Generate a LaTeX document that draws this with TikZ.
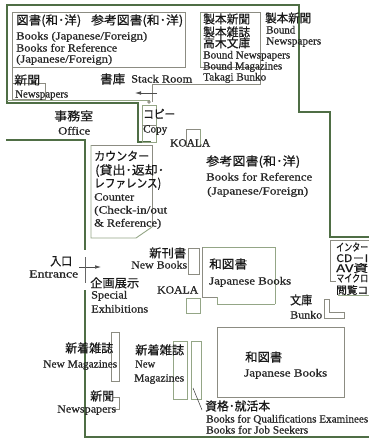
\documentclass[tikz,border=0pt]{standalone}
\usepackage{graphicx}
\usepackage{fontspec}
\setmainfont{Liberation Serif}
\newfontfamily\latf[FakeBold=0.6]{Liberation Serif}
\newfontfamily\cjkf[FakeBold=0.5]{Noto Sans CJK JP}
\newcommand{\nw}[2]{\resizebox{#1pt}{\height}{#2}}
\definecolor{wall}{HTML}{4F6E45}
\definecolor{boxg}{HTML}{8C8C82}
\definecolor{boxv}{HTML}{94A686}
\usetikzlibrary{arrows.meta}
\tikzset{
  lat/.style={anchor=base west,inner sep=0pt,yshift=-3.5pt,font=\latf\fontsize{11}{13}\selectfont,text=black!85},
  jp/.style={anchor=base west,inner sep=0pt,yshift=-4.5pt,font=\cjkf\fontsize{12}{14}\selectfont,text=black!90},
  jps/.style={anchor=base west,inner sep=0pt,yshift=-4pt,font=\cjkf\fontsize{10.5}{12}\selectfont,text=black!90},
  wallline/.style={draw=wall,line width=1.5pt,line join=miter},
  wallthick/.style={draw=wall,line width=2.2pt,line join=miter},
  greybox/.style={draw=boxg,line width=0.8pt},
  greenbox/.style={draw=boxv,line width=0.9pt},
  thin arrow/.style={draw=black!70,line width=0.5pt,-{Latex[length=6pt,width=3.5pt]}}
}
\begin{document}
\begin{tikzpicture}[x=1pt,y=-1pt]
\useasboundingbox (0,0) rectangle (369,439);
\fill[white] (0,0) rectangle (369,439);
% walls
\draw[wallline] (7,102) -- (7,5) -- (299,5) -- (299,112) -- (330,112) -- (330,237) -- (369,237);
\draw[wallline] (6,103) -- (138,103) -- (138,142);
\draw[wallthick] (6,140) -- (85,140) -- (85,250);
\draw[wallthick] (85,290) -- (85,437) -- (369,437);
\draw[wallthick] (137,142) -- (151,142);
\draw[draw=boxv,line width=0.8pt] (7,100) -- (150,100);
% stack room boxes
\draw[greybox] (185,12) -- (12,12) -- (12,67) -- (185,67) -- cycle;
\draw[greenbox] (200,67) -- (200,12);
\draw[greybox] (200,12) -- (260,12) -- (260,84) -- (152,84) -- (152,102);
\draw[greybox] (200,67) -- (260,67);
\draw[greybox] (12,67) -- (12,100);
\draw[greybox] (13,83) -- (45,83) -- (45,99) -- (13,99);
% copy
\draw[greenbox] (142,105) rectangle (156,142);
\draw[greybox] (142,125) -- (156,125);
\draw[greybox] (149,102) circle (1.3);
% counter
\draw[greybox] (91,145) -- (152,145) -- (152,227);
\draw[greenbox] (152,227) -- (136,238) -- (91,238) -- (91,145);
% koala boxes
\draw[greybox] (186,147) -- (186,129) -- (200,129);
\draw[greenbox] (200,129) -- (200,147);
\draw[greenbox] (186,298) rectangle (200,313);
% new books, japanese
\draw[greybox] (188,248) rectangle (199,274);
\draw[greenbox] (275,304) -- (275,247) -- (202,247);
\draw[greybox] (202,247) -- (202,297) -- (217,297);
\draw[greenbox] (217,297) -- (217,304) -- (275,304);
\draw[greybox] (217,327) rectangle (344,397);
% bunko
\draw[greybox] (324,299) -- (329,299) -- (329,312) -- (344,312) -- (344,318) -- (324,318) -- cycle;
% right box
\draw[greybox] (369,240) -- (330,240) -- (330,281) -- (336,281);
\draw[greenbox] (338,295) -- (369,295);
% magazines
\draw[greybox] (111,332) rectangle (119,381);
\draw[greybox] (113,397) -- (119,397) -- (119,409) -- (113,409);
\draw[greenbox] (173,341) rectangle (187,399);
\draw[greenbox] (191,341) rectangle (201,399);
% leaders
\coordinate (stackA) at (157,93); \coordinate (stackB) at (135,93);
\draw[thin arrow] (stackA) -- (stackB);
\coordinate (entA) at (79,267); \coordinate (entB) at (101,267);
\draw[thin arrow] (entA) -- (entB);
\coordinate (entT) at (85,257); \coordinate (entU) at (85,283);
\draw[draw=black!60,line width=0.5pt] (entT) -- (entU);
\coordinate (qualA) at (193,388); \coordinate (qualB) at (202,410);
\draw[draw=black!80,line width=0.5pt] (qualA) -- (qualB);
% labels
\node[jp] (t1) at (16,20) {\nw{65}{図書(和･洋)}};
\node[jp] (t2) at (91,20) {\nw{92}{参考図書(和･洋)}};
\node[lat] (t3) at (16,36) {\nw{131}{Books (Japanese/Foreign)}};
\node[lat] (t4) at (16,48) {\nw{101}{Books for Reference}};
\node[lat] (t5) at (16,59) {\nw{96}{(Japanese/Foreign)}};
\node[jp] (t6) at (14,80) {\nw{26}{新聞}};
\node[lat] (t7) at (15,94) {\nw{53}{Newspapers}};
\node[jp] (t8) at (100,79) {\nw{25}{書庫}};
\node[lat] (t9) at (131,79) {\nw{61}{Stack Room}};
\node[jp] (t10) at (54,116) {\nw{39}{事務室}};
\node[lat] (t11) at (58,131) {\nw{32}{Office}};
\node[jp] (t12) at (143,114) {\nw{32}{コピー}};
\node[lat] (t13) at (143,129) {\nw{24}{Copy}};
\node[jp] (t14) at (203,19) {\nw{47}{製本新聞}};
\node[jp] (t15) at (203,32) {\nw{47}{製本雑誌}};
\node[jp] (t16) at (203,43) {\nw{47}{高木文庫}};
\node[lat] (t17) at (203,55) {\nw{87}{Bound Newspapers}};
\node[lat] (t18) at (203,66) {\nw{79}{Bound Magazines}};
\node[lat] (t19) at (203,77) {\nw{63}{Takagi Bunko}};
\node[jp] (t20) at (265,18) {\nw{46}{製本新聞}};
\node[lat] (t21) at (266,30) {\nw{29}{Bound}};
\node[lat] (t22) at (266,41) {\nw{55}{Newspapers}};
\node[lat] (t23) at (170,143) {\nw{40}{KOALA}};
\node[jp] (t24) at (94,156) {\nw{55}{カウンター}};
\node[jp] (t25) at (95,170) {\nw{69}{(貸出･返却･}};
\node[jp] (t26) at (94,183) {\nw{67}{レファレンス)}};
\node[lat] (t27) at (94,197) {\nw{40}{Counter}};
\node[lat] (t28) at (94,210) {\nw{73}{(Check-in/out}};
\node[lat] (t29) at (94,223) {\nw{67}{\& Reference)}};
\node[jp] (t30) at (206,161) {\nw{94}{参考図書(和･洋)}};
\node[lat] (t31) at (206,177) {\nw{106}{Books for Reference}};
\node[lat] (t32) at (207,191) {\nw{101}{(Japanese/Foreign)}};
\node[jp] (t33) at (50,261) {\nw{22}{入口}};
\node[lat] (t34) at (29,274) {\nw{49}{Entrance}};
\node[jp] (t35) at (90,283) {\nw{49}{企画展示}};
\node[lat] (t36) at (91,295) {\nw{36}{Special}};
\node[lat] (t37) at (91,309) {\nw{57}{Exhibitions}};
\node[jp] (t38) at (149,253) {\nw{37}{新刊書}};
\node[lat] (t39) at (131,265) {\nw{56}{New Books}};
\node[lat] (t40) at (157,290) {\nw{41}{KOALA}};
\node[jp] (t41) at (209,264) {\nw{38}{和図書}};
\node[lat] (t42) at (209,281) {\nw{82}{Japanese Books}};
\node[jp] (t43) at (290,300) {\nw{22}{文庫}};
\node[lat] (t44) at (290,315) {\nw{32}{Bunko}};
\node[jp] (t45) at (245,357) {\nw{37}{和図書}};
\node[lat] (t46) at (244,373) {\nw{83}{Japanese Books}};
\node[jp] (t47) at (65,348) {\nw{48}{新着雑誌}};
\node[lat] (t48) at (43,364) {\nw{74}{New Magazines}};
\node[jp] (t49) at (135,350) {\nw{49}{新着雑誌}};
\node[lat] (t50) at (135,364) {\nw{20}{New}};
\node[lat] (t51) at (134,378) {\nw{50}{Magazines}};
\node[jp] (t52) at (90,396) {\nw{24}{新聞}};
\node[lat] (t53) at (57,409) {\nw{59}{Newspapers}};
\node[jp] (t54) at (205,406) {\nw{65}{資格･就活本}};
\node[lat] (t55) at (206,419) {\nw{162}{Books for Qualifications Examinees}};
\node[lat] (t56) at (206,430) {\nw{102}{Books for Job Seekers}};
\node[jps] (t57) at (336,247) {\nw{32}{インター}};
\node[jps] (t58) at (336,258) {\nw{32}{CD－I}};
\node[jps] (t59) at (336,268) {\nw{32}{AV資}};
\node[jps] (t60) at (336,278) {\nw{32}{マイクロ}};
\node[jps] (t61) at (336,290) {\nw{32}{閲覧コ}};
\end{tikzpicture}
\end{document}
